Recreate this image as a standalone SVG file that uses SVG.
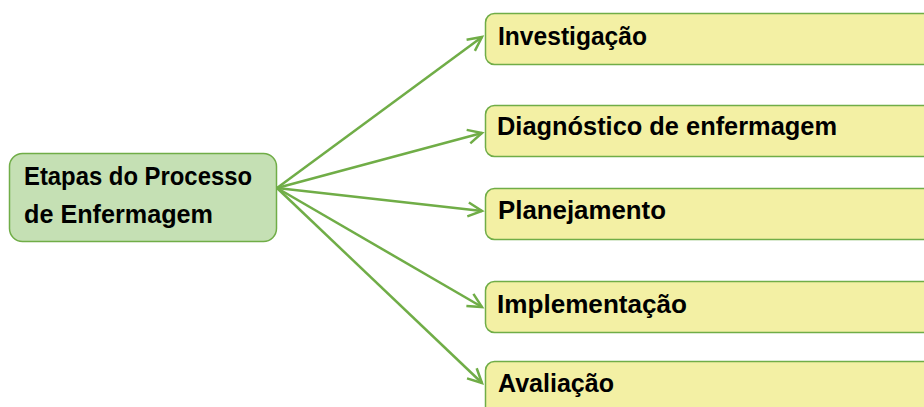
<svg xmlns="http://www.w3.org/2000/svg" width="924" height="407" viewBox="0 0 924 407">
<style>
.root{fill:#c5e0b4;stroke:#70ad47;stroke-width:1.5}
.step{fill:#f3f0a4;stroke:#70ad47;stroke-width:1.5}
.t{font-family:"Liberation Sans",Arial,sans-serif;font-weight:bold;font-size:25px;fill:#000}
.c{fill:none;stroke:#70ad47;stroke-width:2.5}
</style>
<defs>
<marker id="arr" markerUnits="userSpaceOnUse" markerWidth="20" markerHeight="20" refX="15" refY="8" orient="auto" viewBox="0 0 20 16">
<path d="M1,1 L15,8 L1,15" fill="none" stroke="#70ad47" stroke-width="2.5"/>
</marker>
</defs>
<rect width="924" height="407" fill="#fff"/>
<g id="connectors">
<line class="c" x1="277" y1="188" x2="482" y2="37" marker-end="url(#arr)"/>
<line class="c" x1="277" y1="188" x2="482" y2="133" marker-end="url(#arr)"/>
<line class="c" x1="277" y1="188" x2="482" y2="211" marker-end="url(#arr)"/>
<line class="c" x1="277" y1="188" x2="482" y2="307" marker-end="url(#arr)"/>
<line class="c" x1="277" y1="188" x2="482" y2="383" marker-end="url(#arr)"/>
</g>
<g id="root">
<rect class="root" x="9.5" y="153.5" width="267" height="88" rx="13"/>
<text class="t" x="24" y="185" textLength="228" lengthAdjust="spacingAndGlyphs">Etapas do Processo</text>
<text class="t" x="24" y="223" textLength="189" lengthAdjust="spacingAndGlyphs">de Enfermagem</text>
</g>
<g id="investigacao">
<rect class="step" x="485.5" y="13.5" width="460" height="51" rx="9"/>
<text class="t" x="498" y="45" textLength="149" lengthAdjust="spacingAndGlyphs">Investigação</text>
</g>
<g id="diagnostico">
<rect class="step" x="485.5" y="105.5" width="460" height="51" rx="9"/>
<text class="t" x="497" y="135" textLength="340" lengthAdjust="spacingAndGlyphs">Diagnóstico de enfermagem</text>
</g>
<g id="planejamento">
<rect class="step" x="485.5" y="188.5" width="460" height="51" rx="9"/>
<text class="t" x="498" y="219" textLength="168" lengthAdjust="spacingAndGlyphs">Planejamento</text>
</g>
<g id="implementacao">
<rect class="step" x="485.5" y="281.5" width="460" height="51" rx="9"/>
<text class="t" x="497" y="313" textLength="190" lengthAdjust="spacingAndGlyphs">Implementação</text>
</g>
<g id="avaliacao">
<rect class="step" x="485.5" y="361.5" width="460" height="60" rx="9"/>
<text class="t" x="498" y="392" textLength="116" lengthAdjust="spacingAndGlyphs">Avaliação</text>
</g>
</svg>
